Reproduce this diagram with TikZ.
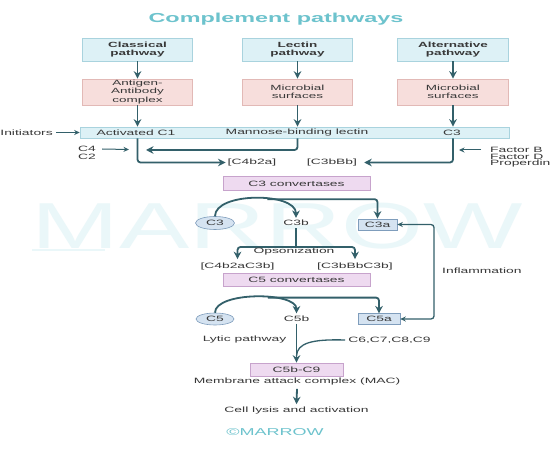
\documentclass[tikz,border=0pt]{standalone}
\usepackage{fontspec}
\setmainfont{Liberation Sans}[FakeStretch=1.8]
\usetikzlibrary{arrows.meta,shapes.geometric}
\definecolor{linec}{HTML}{33606A}
\definecolor{titlec}{HTML}{6DC3CD}
\definecolor{cyanf}{HTML}{DDF1F6}
\definecolor{cyand}{HTML}{A9D3DE}
\definecolor{pinkf}{HTML}{F7DEDC}
\definecolor{pinkd}{HTML}{E2B9B6}
\definecolor{purf}{HTML}{EEDAF0}
\definecolor{purd}{HTML}{C7A3CC}
\definecolor{bluef}{HTML}{D5E3F1}
\definecolor{blued}{HTML}{7F9DBC}
\definecolor{txt}{HTML}{383838}
\definecolor{wmark}{HTML}{EAF7F9}
\begin{document}
\begin{tikzpicture}[x=1pt,y=-1pt,
  every node/.style={text=txt, inner sep=0pt, font=\fontsize{7.7}{8.5}\selectfont},
  topbox/.style={draw=cyand, fill=cyanf, line width=0.6pt, minimum width=110.5pt, minimum height=23pt, align=center, font=\bfseries\fontsize{7.5}{8.5}\selectfont},
  pinkbox/.style={draw=pinkd, fill=pinkf, line width=0.6pt, minimum width=110.5pt, minimum height=26pt, align=center, font=\fontsize{7.5}{8.3}\selectfont},
  purbox/.style={draw=purd, fill=purf, line width=0.6pt, minimum height=13.5pt},
  bluebox/.style={draw=blued, fill=bluef, line width=0.6pt, minimum width=39pt, minimum height=11pt},
  blueell/.style={ellipse, draw=blued, fill=bluef, line width=0.6pt, minimum width=39pt, minimum height=13pt},
  arr/.style={draw=linec, line width=1.8pt, -{Stealth[length=7.5pt,width=7.5pt]}, rounded corners=3pt},
  thinarr/.style={draw=linec, line width=1pt, -{Stealth[length=5.5pt,width=5pt]}},
  dblarr/.style={draw=linec, line width=1.3pt, {Stealth[length=5.5pt,width=5pt]}-{Stealth[length=5.5pt,width=5pt]}, rounded corners=3pt},
  ln/.style={draw=linec, line width=1.8pt}
]
\useasboundingbox (0,0) rectangle (552,449);
\fill[white] (0,0) rectangle (552,449);
% watermark
\node[text=wmark, font=\fontsize{65}{65}\selectfont, xscale=0.9] (wm) at (277,226) {MARROW};
\draw[wmark, line width=2pt] (32,250) -- (105,250);
% title
\node[text=titlec, font=\bfseries\fontsize{13}{13}\selectfont] (title) at (276,19) {Complement pathways};
% top row
\node[topbox] (cp) at (137.5,49.5) {Classical\\pathway};
\node[topbox] (lp) at (297.5,49.5) {Lectin\\pathway};
\node[topbox] (ap) at (453,49.5) {Alternative\\pathway};
\node[pinkbox] (ag) at (137.5,92) {Antigen-\\Antibody\\complex};
\node[pinkbox] (ms1) at (297.5,92) {Microbial\\surfaces};
\node[pinkbox] (ms2) at (453,92) {Microbial\\surfaces};
\draw[arr] (cp) -- (ag);
\draw[arr] (lp) -- (ms1);
\draw[arr] (ap) -- (ms2);
% bar
\node[draw=cyand, fill=cyanf, line width=0.6pt, minimum width=429pt, minimum height=11pt] (bar) at (294.5,132.5) {};
\node (ac1) at (136,132.5) {Activated C1};
\node (mbl) at (297,132.5) {Mannose-binding lectin};
\node (c3t) at (452,132.5) {C3};
\draw[arr] (ag) -- (ag |- bar.north);
\draw[arr] (ms1) -- (ms1 |- bar.north);
\draw[arr] (ms2) -- (ms2 |- bar.north);
\node[anchor=east] (init) at (53,132.5) {Initiators};
\draw[thinarr] ([xshift=3pt]init.east) -- (bar.west |- init.east);
% below bar
\node (c4b2a) at (252,162.5) {[C4b2a]};
\node (c3bbb) at (332,162.5) {[C3bBb]};
\node (c4) at (87,149) {C4};
\node (c2) at (87,156.5) {C2};
\coordinate (c4end) at (129,149.5);
\draw[thinarr] ([xshift=6pt]c4.east) -- (c4end);
\draw[arr] (ag |- bar.south) |- ([xshift=-2pt]c4b2a.west);
\coordinate (lecend) at (146,150);
\draw[arr] (ms1 |- bar.south) |- (lecend);
\draw[arr] (ms2 |- bar.south) |- ([xshift=7pt]c3bbb.east);
\node[anchor=west] (fb) at (490,150) {Factor B};
\node[anchor=west] (fd) at (490,157) {Factor D};
\node[anchor=west] (pr) at (490,164) {Properdin};
\coordinate (fbend) at (459,150);
\draw[thinarr] ([xshift=-9pt]fb.west) -- (fbend);
% C3 convertases
\node[purbox, minimum width=147pt] (c3conv) at (296.5,183.5) {C3 convertases};
\node[blueell] (c3e) at (215,223) {C3};
\node (c3b) at (296,223) {C3b};
\node[bluebox] (c3a) at (377.5,224.5) {C3a};
\draw[arr] (c3e.north) .. controls (215,192) and (296,192) .. node[pos=0.6, coordinate] (c3split) {} ([yshift=2pt]c3b.north);
\draw[arr] (c3split) -| (c3a.north);
\coordinate (opsj) at (296,247);
\draw[ln] ([yshift=-2pt]c3b.south) -- (opsj);
\node (c4c3b) at (237.5,267) {[C4b2aC3b]};
\node (c3c3b) at (355,267) {[C3bBbC3b]};
\draw[arr] (opsj) -| ([yshift=4pt]c4c3b.north);
\draw[arr] (opsj) -| ([yshift=4pt]c3c3b.north);
\node (ops) at (294,252) {Opsonization};
% C5 convertases
\node[purbox, minimum width=147pt] (c5conv) at (296.5,280) {C5 convertases};
\node[blueell, minimum width=38pt, minimum height=12pt] (c5e) at (215,319) {C5};
\node (c5b) at (296.5,318.5) {C5b};
\node[bluebox, minimum width=42pt, minimum height=10.5pt] (c5a) at (379,319) {C5a};
\draw[arr] (c5e.north) .. controls (215,291.5) and (296.5,291.5) .. node[pos=0.6, coordinate] (c5split) {} ([yshift=2pt]c5b.north);
\draw[arr] (c5split) -| (c5a.north);
% inflammation
\coordinate (infl) at (434,270);
\draw[dblarr] (c3a.east) -| (infl) |- (c5a.east);
\node[anchor=west] (inft) at (442,271) {Inflammation};
% lytic
\node (lytic) at (244.5,340) {Lytic pathway};
\node (c6) at (389.5,340) {C6,C7,C8,C9};
\node[purbox, minimum width=93pt, minimum height=13pt] (c5c9) at (296.5,369.5) {C5b-C9};
\draw[arr] ([yshift=-2pt]c5b.south) -- (c5c9.north);
\coordinate (c6j) at (296.5,356);
\draw[ln, line width=1.3pt] ([xshift=-3pt]c6.west) .. controls (312,339) and (297,343) .. (c6j);
\node (mac) at (297,382) {Membrane attack complex (MAC)};
\node (lysis) at (296.5,411) {Cell lysis and activation};
\draw[arr] ([yshift=-3pt]mac.south) -- ([yshift=3pt]lysis.north);
\node[text=titlec, font=\fontsize{10}{10}\selectfont] (cm) at (275,432) {©MARROW};
\end{tikzpicture}
\end{document}
